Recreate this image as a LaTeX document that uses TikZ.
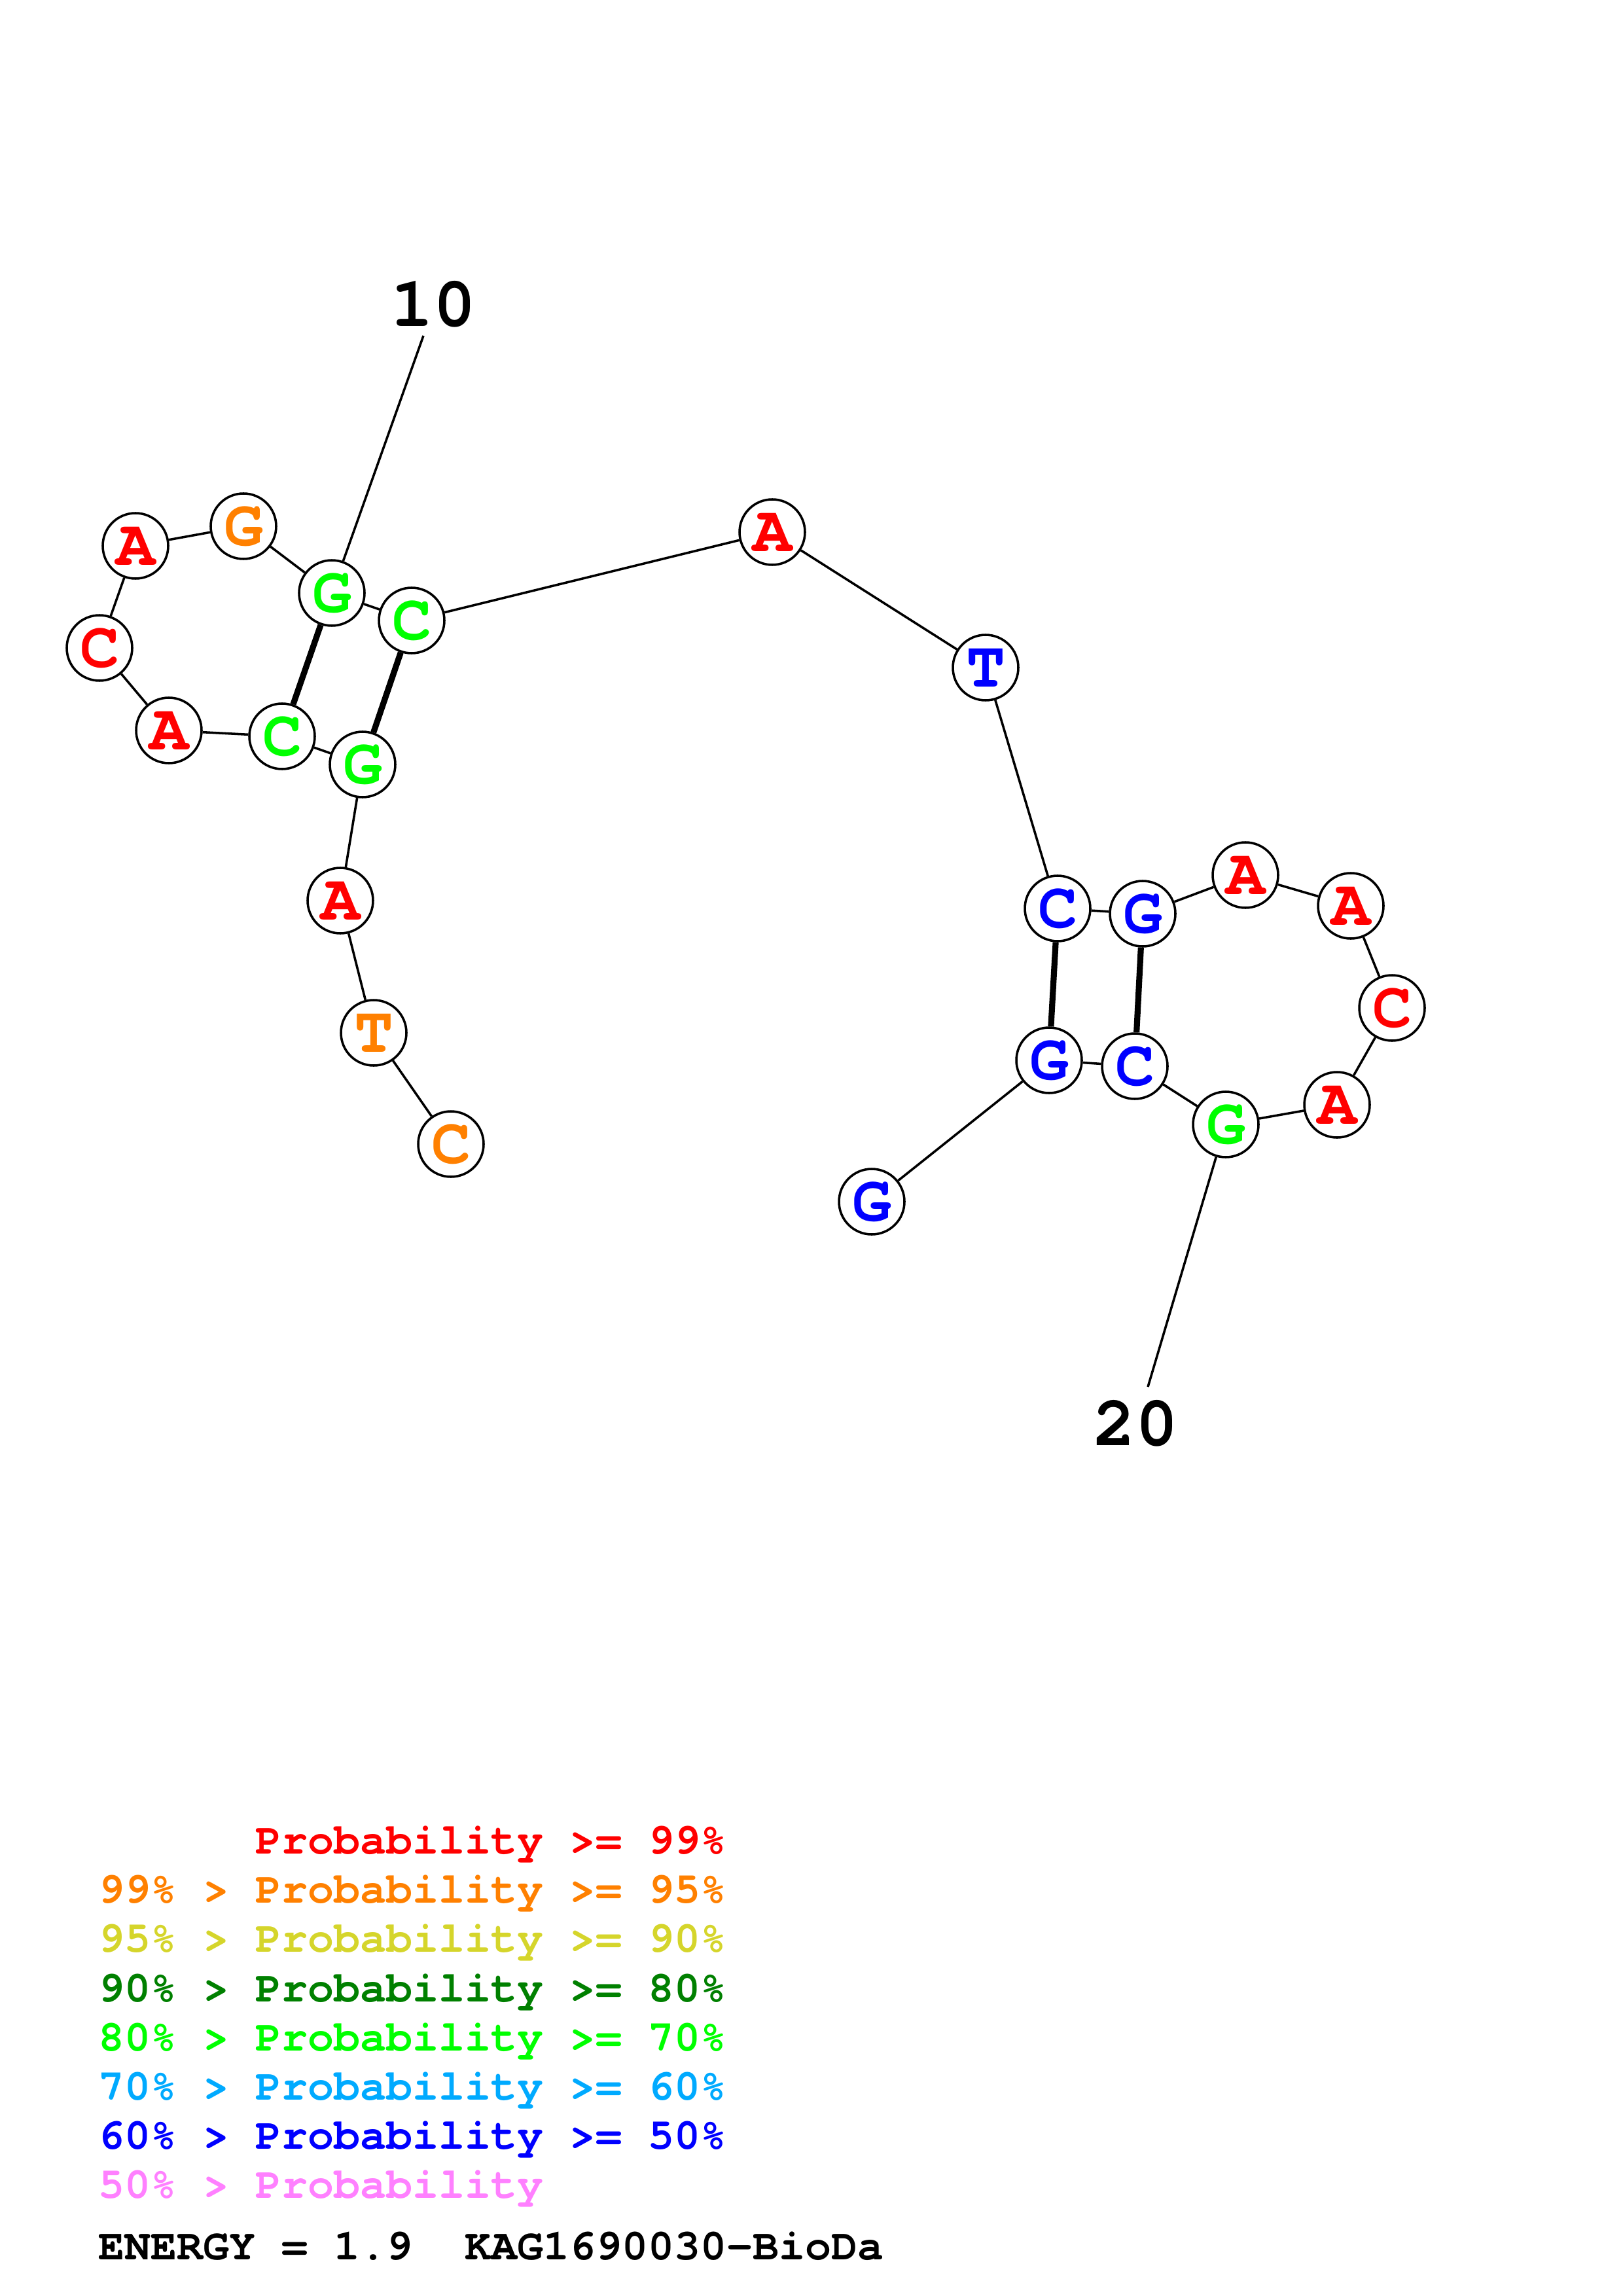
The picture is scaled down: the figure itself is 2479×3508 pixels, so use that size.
\documentclass[tikz,border=0pt]{standalone}
\usepackage{fontspec}
\setmonofont{TeX Gyre Cursor}
\usepackage{tikz}

\definecolor{pRed}{RGB}{255,0,0}
\definecolor{pOrange}{RGB}{255,128,0}
\definecolor{pYellow}{RGB}{213,213,43}
\definecolor{pDarkGreen}{RGB}{0,128,0}
\definecolor{pGreen}{RGB}{0,255,0}
\definecolor{pSky}{RGB}{0,170,255}
\definecolor{pBlue}{RGB}{0,0,255}
\definecolor{pPink}{RGB}{255,128,255}

\tikzset{
    base/.style={circle, draw, line width=0.85pt, fill=white, minimum size=24pt,
        inner sep=0pt, font=\ttfamily\bfseries\fontsize{24}{24}\selectfont},
    backbone/.style={line width=0.85pt},
    pairbond/.style={line width=2.2pt},
    tick/.style={font=\ttfamily\bfseries\fontsize{26}{26}\selectfont, inner sep=0pt},
    legend/.style={anchor=base west, inner sep=0pt,
        font=\ttfamily\bfseries\fontsize{16}{16}\selectfont}
}

\begin{document}
\begin{tikzpicture}[x=0.24pt, y=-0.24pt]
        \useasboundingbox (0,0) rectangle (2479,3508);

        % bases, 5' to 3'
        \foreach \i/\x/\y/\b/\c in {
            1/689/1748/C/pOrange, 2/571/1578/T/pOrange, 3/520/1376/A/pRed,
            4/554/1168/G/pGreen, 5/431/1125/C/pGreen, 6/258/1116/A/pRed,
            7/152/990/C/pRed, 8/207/834/A/pRed, 9/372/804/G/pOrange,
            10/507/906/G/pGreen, 11/629/948/C/pGreen, 12/1180/813/A/pRed,
            13/1506/1020/T/pBlue, 14/1616/1388/C/pBlue, 15/1746/1396/G/pBlue,
            16/1903/1337/A/pRed, 17/2064/1384/A/pRed, 18/2127/1540/C/pRed,
            19/2043/1688/A/pRed, 20/1873/1718/G/pGreen, 21/1734/1629/C/pBlue,
            22/1603/1620/G/pBlue, 23/1332/1836/G/pBlue}
            \node[base, text=\c] (n\i) at (\x,\y) {\b};

        \foreach \i [evaluate=\i as \j using int(\i+1)] in {1,...,22}
            \draw[backbone] (n\i) -- (n\j);

        \foreach \a/\b in {4/11, 5/10, 14/22, 15/21}
            \draw[pairbond] (n\a) -- (n\b);

        % position ticks
        \node[tick] (lab10) at (662,465) {10};
        \coordinate (end10) at (647,513);
        \draw[backbone] (n10) -- (end10);
        \node[tick] (lab20) at (1735,2175) {20};
        \coordinate (end20) at (1754,2119);
        \draw[backbone] (n20) -- (end20);

        % legend
        \node[legend, text=pRed] (key99) at (150,2832) {\phantom{99\% > }Probability >= 99\%};
        \node[legend, text=pOrange] (key95) at (150,2907) {99\% > Probability >= 95\%};
        \node[legend, text=pYellow] (key90) at (150,2982) {95\% > Probability >= 90\%};
        \node[legend, text=pDarkGreen] (key80) at (150,3058) {90\% > Probability >= 80\%};
        \node[legend, text=pGreen] (key70) at (150,3133) {80\% > Probability >= 70\%};
        \node[legend, text=pSky] (key60) at (150,3208) {70\% > Probability >= 60\%};
        \node[legend, text=pBlue] (key50) at (150,3283) {60\% > Probability >= 50\%};
        \node[legend, text=pPink] (key00) at (150,3358) {50\% > Probability};
        \node[legend] (energy) at (150,3452) {ENERGY = 1.9\ \ KAG1690030-BioDa};
\end{tikzpicture}
\end{document}
